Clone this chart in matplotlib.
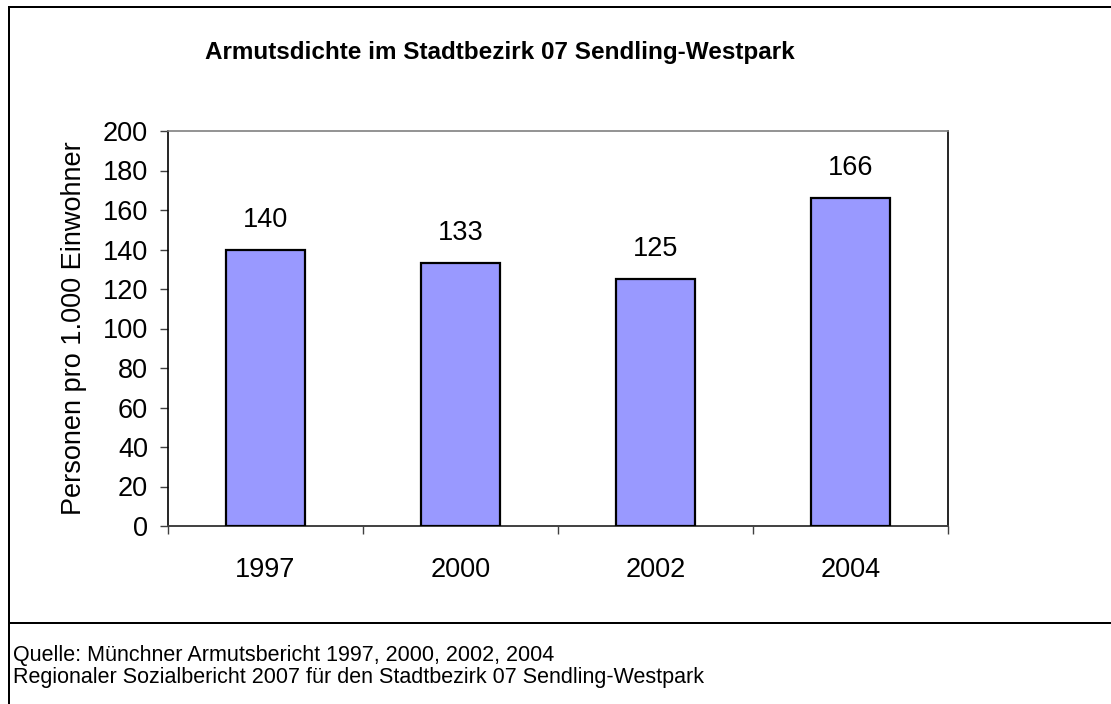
import matplotlib
matplotlib.use("Agg")
import matplotlib.pyplot as plt
from matplotlib.lines import Line2D

years = ["1997", "2000", "2002", "2004"]
values = [140, 133, 125, 166]
yticks = list(range(0, 201, 20))
title = "Armutsdichte im Stadtbezirk 07 Sendling-Westpark"
ylabel = "Personen pro 1.000 Einwohner"
source_lines = ["Quelle: Münchner Armutsbericht 1997, 2000, 2002, 2004",
                "Regionaler Sozialbericht 2007 für den Stadtbezirk 07 Sendling-Westpark"]

plt.rcParams['font.family'] = ['Liberation Sans', 'DejaVu Sans']

W, H = 1111, 704
fig = plt.figure(figsize=(W / 100, H / 100), dpi=100)
fig.patch.set_facecolor('white')

def fx(px):
    return px / W

def fy(py):
    return 1 - py / H

ax = fig.add_axes([fx(168), fy(526), fx(948 - 168), (526 - 131) / H])
x = list(range(len(years)))
ax.bar(x, values, width=0.41, color='#9999FF', edgecolor='black', linewidth=1.6, zorder=3)
ax.set_xlim(-0.5, len(years) - 0.5)
ax.set_ylim(0, 200)
ax.set_yticks(yticks)
ax.set_yticklabels([str(t) for t in yticks], fontsize=19.5)
ax.set_xticks([i - 0.5 for i in range(len(years) + 1)])
ax.set_xticklabels([])
ax.set_xticks(x, minor=True)
ax.set_xticklabels(years, minor=True, fontsize=19.5)
ax.tick_params(axis='x', which='major', direction='out', length=5.8, width=1, color='#404040')
ax.tick_params(axis='x', which='minor', length=0, pad=22)
ax.tick_params(axis='y', direction='out', length=5.8, width=1, color='#404040', pad=8.5)

for s in ['left', 'right']:
    ax.spines[s].set_color('black')
    ax.spines[s].set_linewidth(1.2)
ax.spines['bottom'].set_color('#404040')
ax.spines['bottom'].set_linewidth(1.4)
ax.spines['top'].set_color('#808080')
ax.spines['top'].set_linewidth(1.2)

for xi, v in zip(x, values):
    ax.annotate(str(v), (xi, v), xytext=(0, 21.5), textcoords='offset points',
                ha='center', va='center', fontsize=19.5)

ax.set_ylabel(ylabel, fontsize=19.5, labelpad=11)

fig.text(fx(500), fy(52), title, ha='center', va='center', fontsize=17.5, fontweight='bold')
fig.text(fx(13), fy(655), source_lines[0], ha='left', va='center', fontsize=15.5)
fig.text(fx(13), fy(678), source_lines[1], ha='left', va='center', fontsize=15.5)

lw = 2.0
fig.add_artist(Line2D([fx(9), fx(9)], [fy(6.5), 0], transform=fig.transFigure, color='black', lw=lw * 0.72))
fig.add_artist(Line2D([fx(9), 1], [fy(6.5), fy(6.5)], transform=fig.transFigure, color='black', lw=lw * 0.72))
fig.add_artist(Line2D([fx(9), 1], [fy(622.5), fy(622.5)], transform=fig.transFigure, color='black', lw=lw * 0.72))

fig.savefig("out.png", dpi=100)
